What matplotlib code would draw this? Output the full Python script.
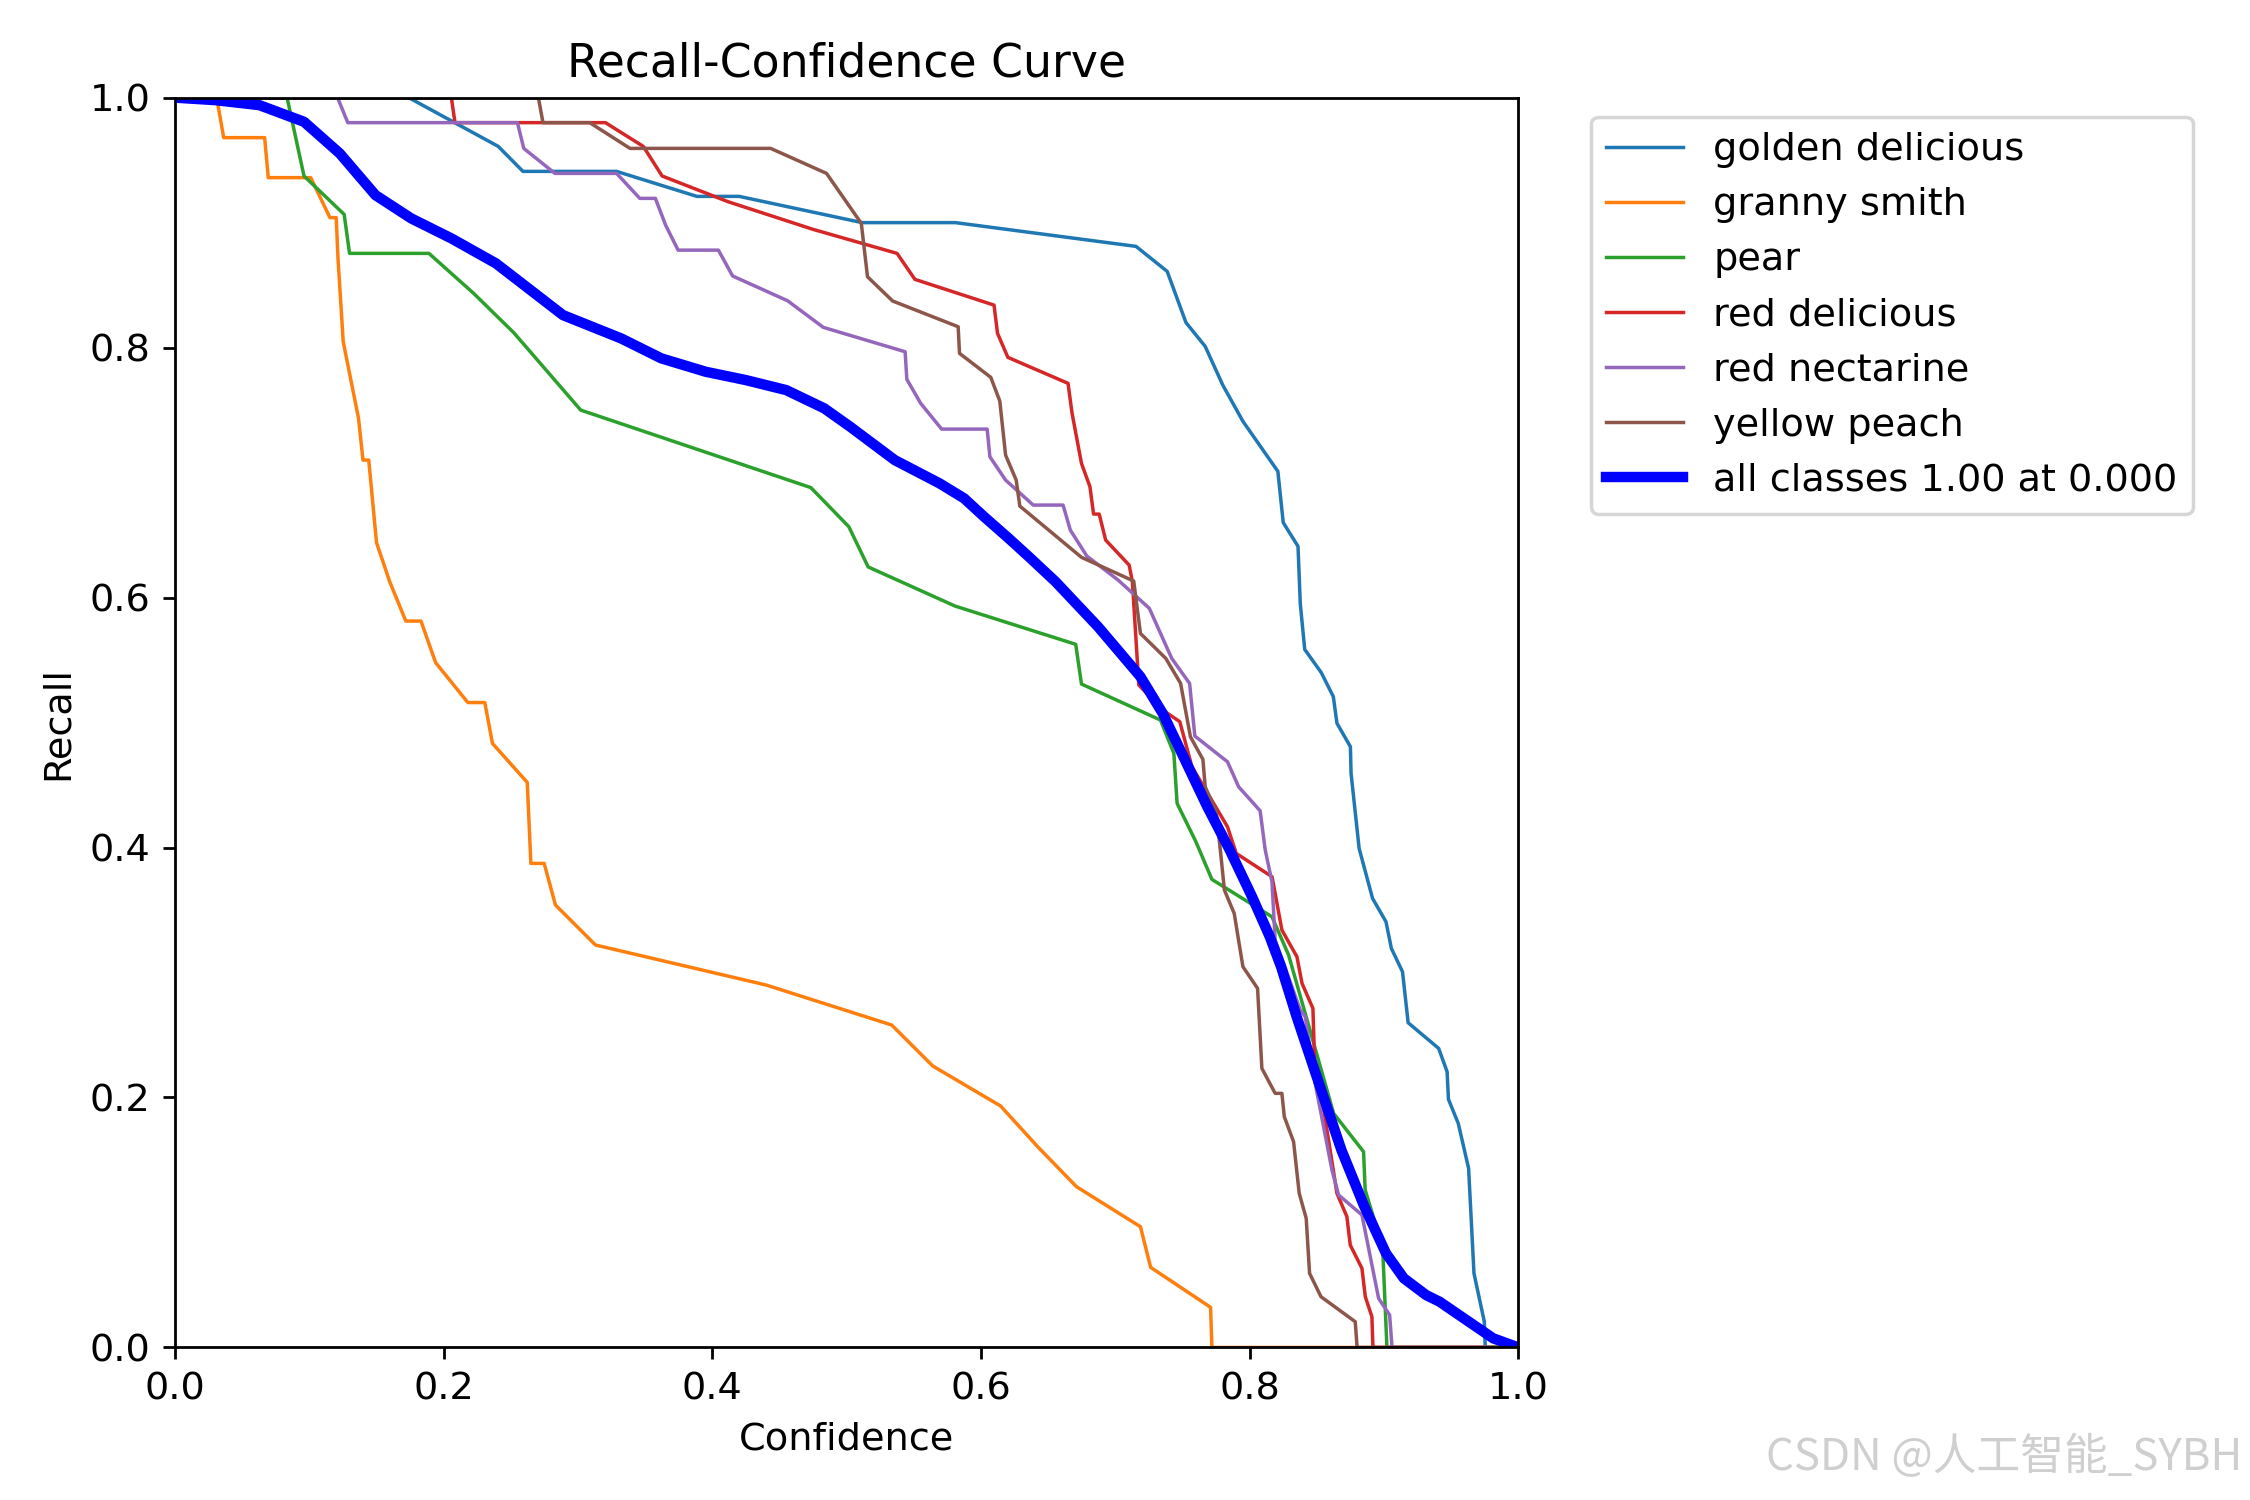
import matplotlib
matplotlib.use("Agg")
import matplotlib.pyplot as plt

names = ["golden delicious", "granny smith", "pear", "red delicious", "red nectarine", "yellow peach"]

golden_x = [0, 0.174, 0.2406, 0.259, 0.3287, 0.3885, 0.420, 0.5115, 0.581, 0.7154, 0.7386, 0.7526, 0.7669, 0.780, 0.795,
            0.821, 0.825, 0.836, 0.8377, 0.841, 0.8533, 0.8623, 0.865, 0.875, 0.8755, 0.8815, 0.8915, 0.9015, 0.9055,
            0.9138, 0.918, 0.9407, 0.947, 0.948, 0.9553, 0.963, 0.967, 0.9747, 0.9754, 1.0]
golden_y = [1.0, 1.0, 0.961, 0.941, 0.941, 0.921, 0.921, 0.900, 0.900, 0.881, 0.861, 0.820, 0.801, 0.770, 0.741,
            0.701, 0.660, 0.641, 0.595, 0.5585, 0.540, 0.5207, 0.4994, 0.4807, 0.4593, 0.3993, 0.3593, 0.3406, 0.3193,
            0.3006, 0.2598, 0.2393, 0.2206, 0.1985, 0.1793, 0.1433, 0.0593, 0.0206, 0.0, 0.0]

granny_x = [0, 0.031, 0.0362, 0.0667, 0.0694, 0.101, 0.1153, 0.12, 0.1213, 0.1252, 0.1309, 0.1366, 0.1399, 0.1442,
            0.150, 0.1598, 0.1718, 0.1831, 0.194, 0.218, 0.2306, 0.2363, 0.2622, 0.2649, 0.2748, 0.2832, 0.313, 0.440,
            0.5335, 0.5641, 0.6146, 0.6422, 0.6711, 0.7187, 0.7263, 0.7709, 0.7719, 1.0]
granny_y = [1.0, 1.0, 0.968, 0.968, 0.936, 0.936, 0.904, 0.904, 0.8714, 0.8047, 0.774, 0.7434, 0.710, 0.710,
            0.6439, 0.6127, 0.5812, 0.5812, 0.5479, 0.516, 0.516, 0.4833, 0.4521, 0.3873, 0.3873, 0.354, 0.322, 0.290,
            0.258, 0.2252, 0.1932, 0.1606, 0.1286, 0.0966, 0.0641, 0.0321, 0.0, 0.0]

pear_x = [0, 0.0834, 0.096, 0.1259, 0.1299, 0.189, 0.2223, 0.2522, 0.302, 0.4733, 0.5016, 0.516, 0.5807, 0.6705,
          0.6748, 0.7336, 0.7436, 0.746, 0.760, 0.7719, 0.8166, 0.829, 0.8625, 0.8848, 0.886, 0.899, 0.9022, 1.0]
pear_y = [1.0, 1.0, 0.9373, 0.9066, 0.8754, 0.8754, 0.8434, 0.8119, 0.750, 0.688, 0.6567, 0.6245, 0.5932, 0.5626,
          0.5308, 0.502, 0.4753, 0.4353, 0.4046, 0.3745, 0.3446, 0.314, 0.1873, 0.1566, 0.126, 0.08, 0.0, 0.0]

red_x = [0, 0.2057, 0.2084, 0.3204, 0.3486, 0.3626, 0.4118, 0.475, 0.5375, 0.5508, 0.6097, 0.6123, 0.620, 0.6648,
         0.6678, 0.6748, 0.6811, 0.6838, 0.688, 0.6928, 0.7103, 0.7127, 0.7175, 0.7353, 0.748, 0.757, 0.7835, 0.790,
         0.8167, 0.824, 0.8352, 0.839, 0.8471, 0.8483, 0.856, 0.865, 0.8724, 0.8749, 0.8836, 0.8861, 0.891, 0.8918, 1.0]
red_y = [1.0, 1.0, 0.98, 0.98, 0.961, 0.9373, 0.9167, 0.8946, 0.8754, 0.8546, 0.834, 0.8114, 0.7922, 0.7714,
         0.7474, 0.7074, 0.6887, 0.6668, 0.6668, 0.646, 0.626, 0.6127, 0.530, 0.510, 0.5007, 0.4647, 0.4166, 0.3953,
         0.3766, 0.334, 0.3126, 0.2913, 0.2713, 0.230, 0.1846, 0.1233, 0.1046, 0.0819, 0.0633, 0.0406, 0.0246, 0.0, 0.0]

purple_x = [0, 0.121, 0.1286, 0.2549, 0.2596, 0.2828, 0.3287, 0.346, 0.3576, 0.3652, 0.3745, 0.4045, 0.4151, 0.456,
            0.4826, 0.5435, 0.5448, 0.5551, 0.5707, 0.6046, 0.6066, 0.6183, 0.6389, 0.6611, 0.6665, 0.6788, 0.7021,
            0.7253, 0.742, 0.7553, 0.7592, 0.7835, 0.7918, 0.8078, 0.8116, 0.8166, 0.819, 0.8377, 0.8414, 0.8488,
            0.8613, 0.8662, 0.8836, 0.896, 0.9042, 0.906, 1.0]
purple_y = [1.0, 1.0, 0.98, 0.98, 0.9594, 0.9394, 0.9394, 0.9194, 0.9194, 0.898, 0.878, 0.878, 0.8573, 0.8375,
            0.8162, 0.7967, 0.7746, 0.7554, 0.7348, 0.7348, 0.7127, 0.694, 0.674, 0.674, 0.654, 0.6332, 0.614,
            0.5914, 0.5513, 0.5313, 0.4892, 0.4686, 0.4486, 0.4294, 0.398, 0.3726, 0.326, 0.27, 0.2646, 0.2113,
            0.1419, 0.122, 0.106, 0.0393, 0.026, 0.0, 0.0]

brown_x = [0, 0.2705, 0.2739, 0.3087, 0.3387, 0.4434, 0.485, 0.5109, 0.5155, 0.5342, 0.583, 0.584, 0.6073, 0.614,
           0.6183, 0.6262, 0.6289, 0.6748, 0.7137, 0.7187, 0.7376, 0.7486, 0.7559, 0.7652, 0.7669, 0.7751, 0.7785,
           0.7812, 0.7885, 0.795, 0.8059, 0.8091, 0.819, 0.824, 0.8258, 0.8327, 0.8369, 0.8421, 0.8446, 0.8531,
           0.8786, 0.880, 1.0]
brown_y = [1.0, 1.0, 0.98, 0.98, 0.9594, 0.9594, 0.9394, 0.8994, 0.8567, 0.8373, 0.8167, 0.7954, 0.7762, 0.7572,
           0.714, 0.694, 0.6732, 0.6322, 0.6132, 0.5713, 0.5513, 0.5313, 0.4886, 0.4705, 0.4486, 0.4286, 0.3947,
           0.366, 0.3473, 0.3046, 0.2873, 0.2233, 0.2033, 0.2033, 0.1846, 0.1646, 0.1233, 0.1033, 0.0593, 0.0406,
           0.0206, 0.0, 0.0]

all_x = [0, 0.03, 0.0628, 0.096, 0.1226, 0.1492, 0.1758, 0.2057, 0.2389, 0.2888, 0.332, 0.362, 0.395, 0.425, 0.455,
         0.4833, 0.5026, 0.5358, 0.5691, 0.5874, 0.6023, 0.6206, 0.6356, 0.6555, 0.6871, 0.7187, 0.7353, 0.7519,
         0.7685, 0.7852, 0.8018, 0.815, 0.8234, 0.835, 0.8516, 0.8683, 0.8849, 0.9015, 0.9148, 0.9314, 0.9414,
         0.9614, 0.9813, 1.0]
all_y = [1.0, 0.998, 0.994, 0.9807, 0.9554, 0.922, 0.9034, 0.8874, 0.8674, 0.826, 0.8074, 0.7914, 0.7807, 0.774,
         0.766, 0.7514, 0.7367, 0.710, 0.6914, 0.6794, 0.6647, 0.6474, 0.6327, 0.6127, 0.5767, 0.5367, 0.5073, 0.470,
         0.4326, 0.398, 0.3606, 0.3286, 0.3046, 0.2646, 0.2113, 0.158, 0.114, 0.0753, 0.0553, 0.0419, 0.0366,
         0.0219, 0.0073, 0.0]

all_label = "all classes 1.00 at 0.000"
title = "Recall-Confidence Curve"
xlabel = "Confidence"
ylabel = "Recall"
watermark = "CSDN @人工智能_SYBH"

series = [(golden_x, golden_y), (granny_x, granny_y), (pear_x, pear_y),
          (red_x, red_y), (purple_x, purple_y), (brown_x, brown_y)]

plt.rcParams["font.size"] = 11

fig, ax = plt.subplots(1, 1, figsize=(9, 6))
fig.subplots_adjust(left=0.0778, right=0.6748, top=0.9349, bottom=0.1017)

for name, (xs, ys) in zip(names, series):
    ax.plot(xs, ys, linewidth=1, label=name)
ax.plot(all_x, all_y, linewidth=3, color="blue", label=all_label)

ax.set_xlabel(xlabel)
ax.set_ylabel(ylabel)
ax.set_xlim(0, 1)
ax.set_ylim(0, 1)
ax.set_title(title)
ax.legend(bbox_to_anchor=(1.04, 1), loc="upper left")

fig.text(0.9965, 0.028, watermark, ha="right", va="center", fontsize=12.6,
         color="#cfcfcf", family=["Noto Sans CJK SC", "DejaVu Sans"])

fig.savefig("out.png", dpi=250)
